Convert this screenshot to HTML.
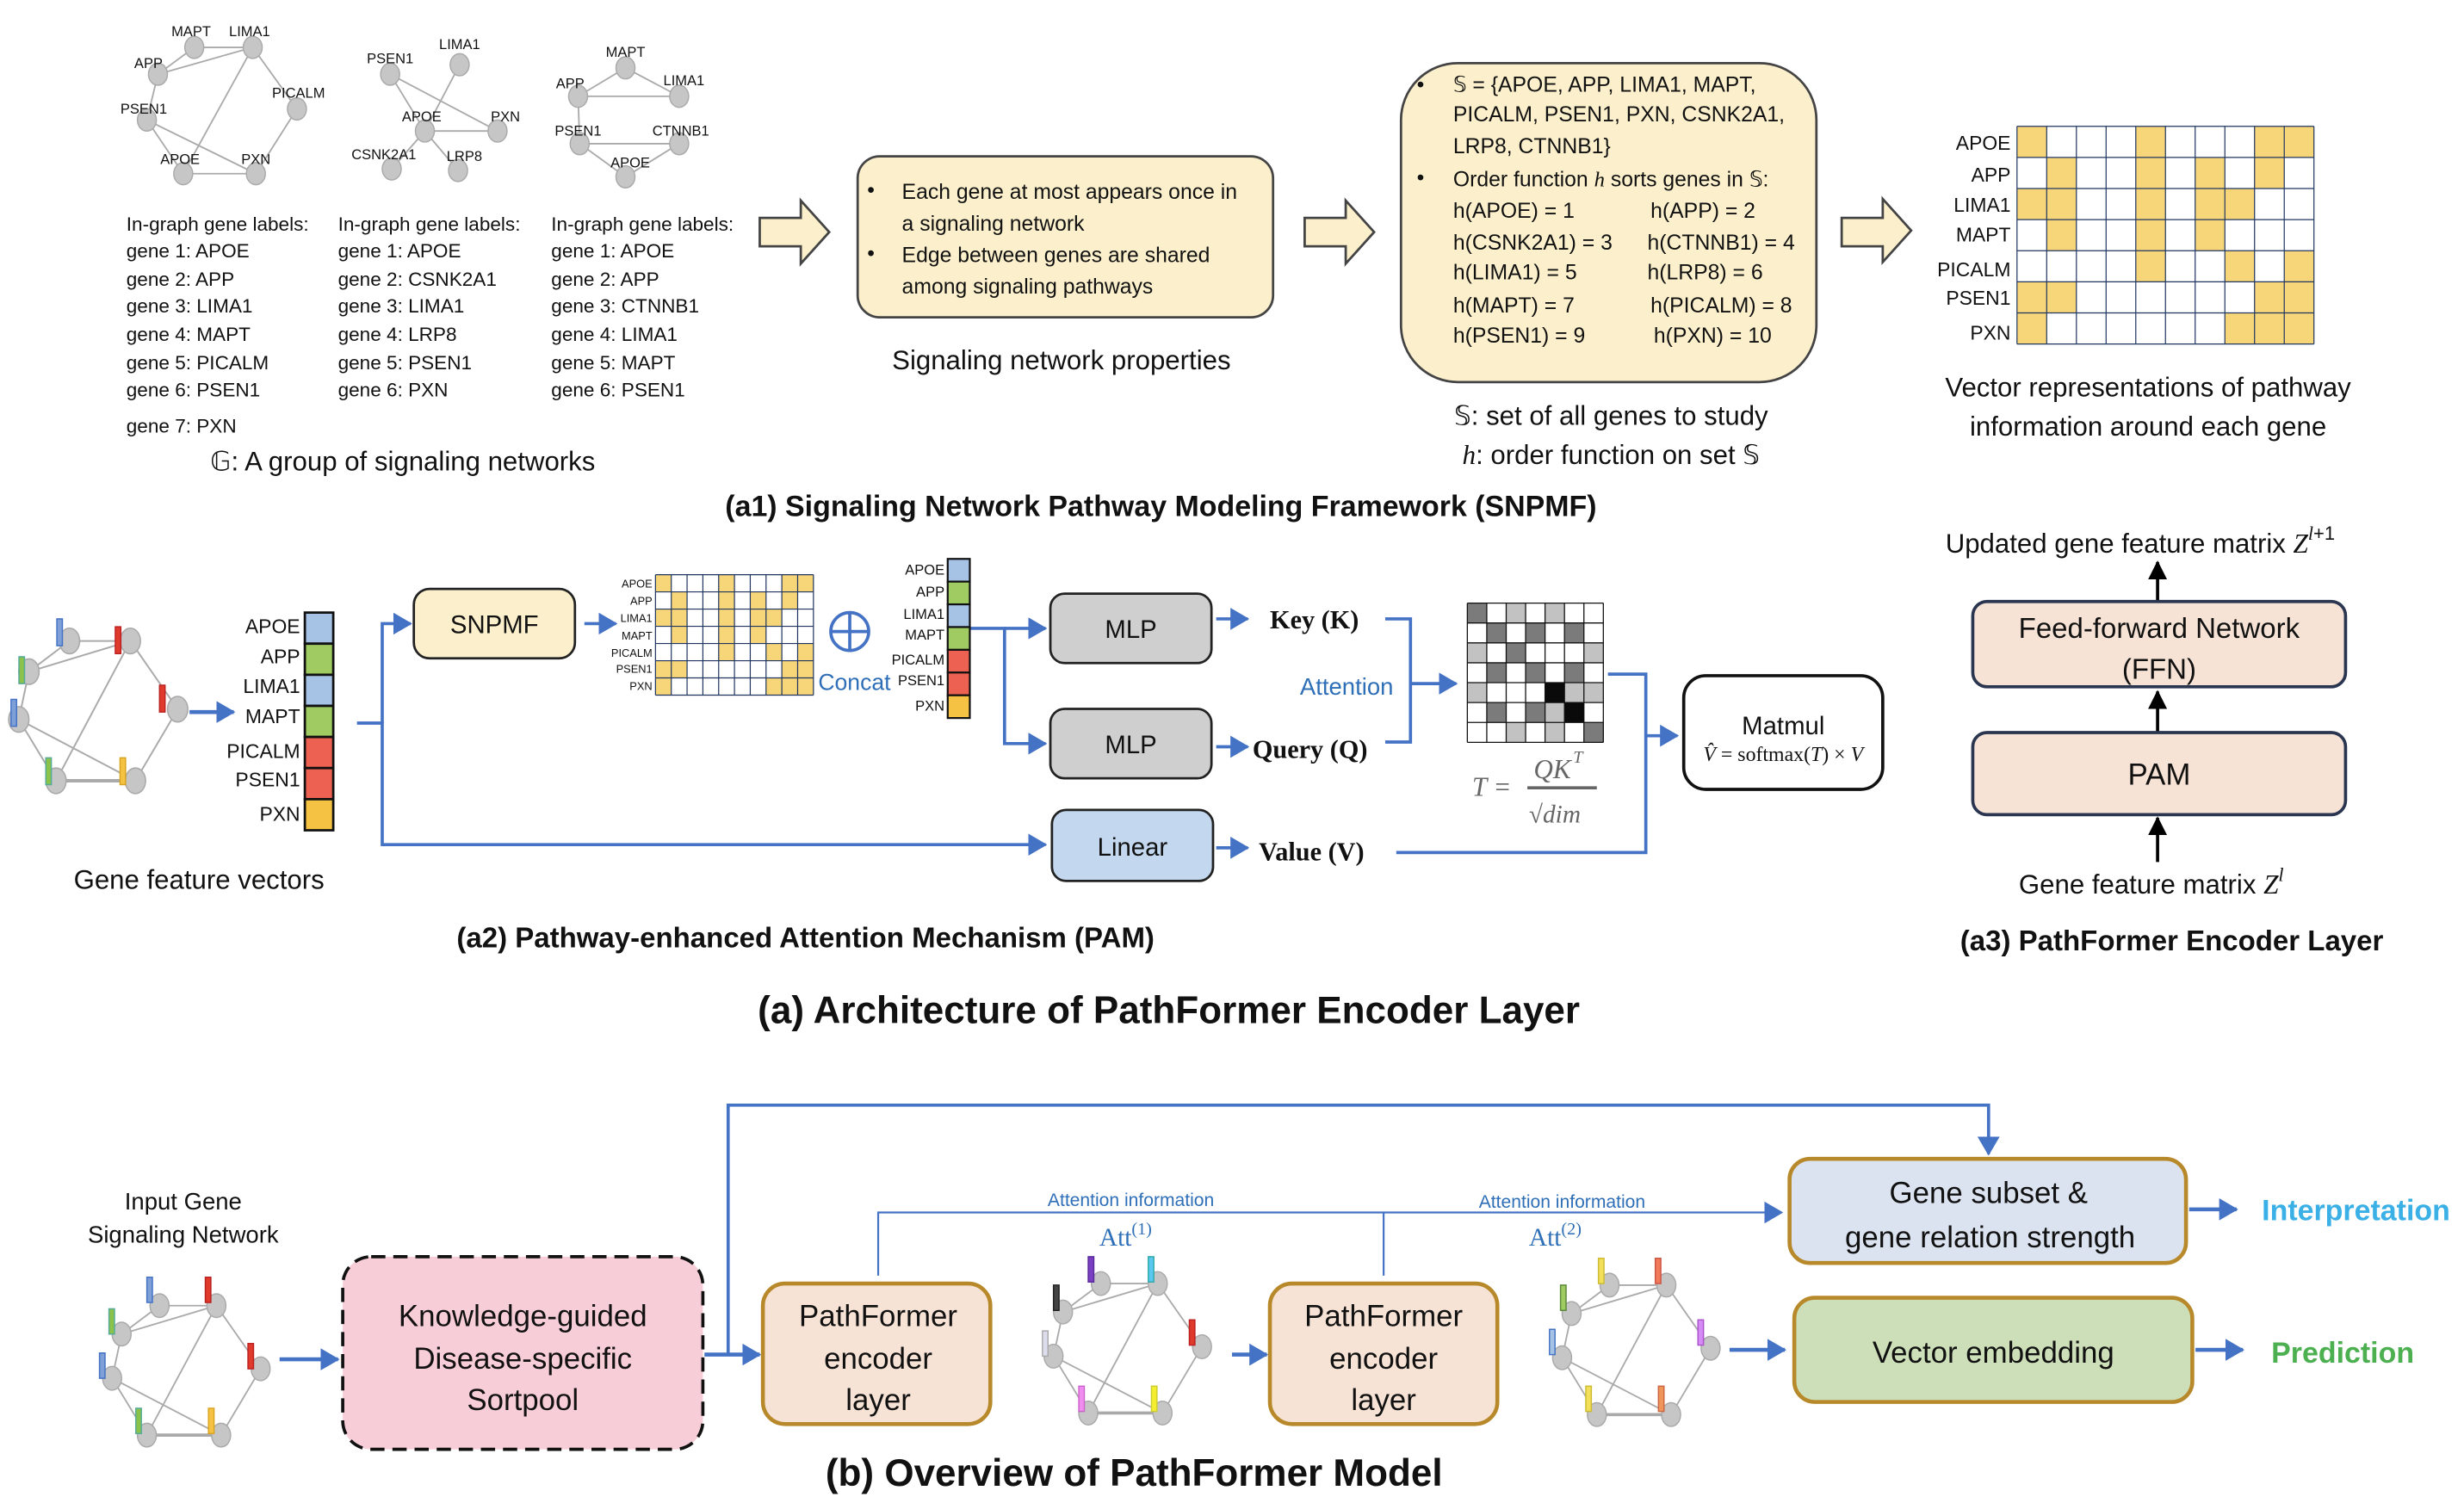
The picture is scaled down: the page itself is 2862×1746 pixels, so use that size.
<!DOCTYPE html>
<html><head><meta charset="utf-8"><style>
html,body{margin:0;padding:0;background:#fff}
svg{display:block}
text{font-family:"Liberation Sans",sans-serif;fill:#111}
.s{font-family:"Liberation Serif",serif}
.b{font-weight:bold}
.bl{fill:#2e6fb8}
</style></head><body>
<svg width="2862" height="1746" viewBox="0 0 1560 952" preserveAspectRatio="none" xmlns="http://www.w3.org/2000/svg">
<defs>
<marker id="ab" markerUnits="userSpaceOnUse" markerWidth="12" markerHeight="14" refX="11" refY="7" orient="auto"><path d="M0,0 L12,7 L0,14 z" fill="#4472c4"/></marker>
<marker id="ak" markerUnits="userSpaceOnUse" markerWidth="12" markerHeight="14" refX="11" refY="7" orient="auto"><path d="M0,1 L12,7 L0,13 z" fill="#000"/></marker>
<g id="grid">
<rect x="0" y="0" width="10" height="7" fill="#fff"/>
<g fill="#f7d67a">
<rect x="0" y="0" width="1" height="1"/><rect x="4" y="0" width="1" height="1"/><rect x="8" y="0" width="2" height="1"/>
<rect x="1" y="1" width="1" height="1"/><rect x="4" y="1" width="1" height="1"/><rect x="6" y="1" width="1" height="1"/><rect x="8" y="1" width="1" height="1"/>
<rect x="0" y="2" width="2" height="1"/><rect x="4" y="2" width="1" height="1"/><rect x="6" y="2" width="2" height="1"/>
<rect x="1" y="3" width="1" height="1"/><rect x="4" y="3" width="1" height="1"/><rect x="6" y="3" width="1" height="1"/>
<rect x="4" y="4" width="1" height="1"/><rect x="7" y="4" width="1" height="1"/><rect x="9" y="4" width="1" height="1"/>
<rect x="0" y="5" width="2" height="1"/><rect x="8" y="5" width="2" height="1"/>
<rect x="0" y="6" width="1" height="1"/><rect x="7" y="6" width="3" height="1"/>
</g>
<g stroke="#1f3560" stroke-width="1.2" vector-effect="non-scaling-stroke" fill="none">
<path vector-effect="non-scaling-stroke" d="M0,0H10M0,1H10M0,2H10M0,3H10M0,4H10M0,5H10M0,6H10M0,7H10M0,0V7M1,0V7M2,0V7M3,0V7M4,0V7M5,0V7M6,0V7M7,0V7M8,0V7M9,0V7M10,0V7"/>
</g>
</g>
<g id="net">
<g stroke="#aaa" stroke-width="1" fill="none">
<path d="M0,0L36,0M-24,18L0,0M-24,18L36,0M36,0L64,40M36,0L-8,82M-24,18L-30,46M-30,46L-8,82M-30,46L39,82M64,40L39,82"/>
<path d="M-8,82L39,82" stroke-width="2"/>
</g>
<g fill="#c6c6c6" stroke="#aaa" stroke-width="0.8">
<ellipse cx="0" cy="0" rx="6" ry="7.5"/><ellipse cx="36" cy="0" rx="6" ry="7.5"/><ellipse cx="-24" cy="18" rx="6" ry="7.5"/><ellipse cx="64" cy="40" rx="6" ry="7.5"/><ellipse cx="-30" cy="46" rx="6" ry="7.5"/><ellipse cx="-8" cy="82" rx="6" ry="7.5"/><ellipse cx="39" cy="82" rx="6" ry="7.5"/>
</g>
</g>
</defs>

<!-- ================= a1 ================= -->
<g stroke="#aaa" stroke-width="1" fill="none">
<path d="M123,30L160,30M100,47L123,30M100,47L160,30M160,30L188,69M160,30L116,110M100,47L93,76M93,76L116,110M93,76L162,110M188,69L162,110M116,110L162,110"/>
<path d="M247,47L269,83M247,47L315,83M291,41L269,83M269,83L315,83M269,83L248,107M269,83L290,108"/>
<path d="M366,61L396,43M396,43L430,61M366,61L430,61M366,61L367,91M367,91L430,91M367,91L396,112M396,112L430,91"/>
</g>
<g fill="#c6c6c6" stroke="#aaa" stroke-width="0.8">
<ellipse cx="123" cy="30" rx="6" ry="7"/><ellipse cx="160" cy="30" rx="6" ry="7"/><ellipse cx="100" cy="47" rx="6" ry="7"/><ellipse cx="188" cy="69" rx="6" ry="7"/><ellipse cx="93" cy="76" rx="6" ry="7"/><ellipse cx="116" cy="110" rx="6" ry="7"/><ellipse cx="162" cy="110" rx="6" ry="7"/>
<ellipse cx="247" cy="47" rx="6" ry="7"/><ellipse cx="291" cy="41" rx="6" ry="7"/><ellipse cx="269" cy="83" rx="6" ry="7"/><ellipse cx="315" cy="83" rx="6" ry="7"/><ellipse cx="248" cy="107" rx="6" ry="7"/><ellipse cx="290" cy="108" rx="6" ry="7"/>
<ellipse cx="396" cy="43" rx="6" ry="7"/><ellipse cx="366" cy="61" rx="6" ry="7"/><ellipse cx="430" cy="61" rx="6" ry="7"/><ellipse cx="367" cy="91" rx="6" ry="7"/><ellipse cx="430" cy="91" rx="6" ry="7"/><ellipse cx="396" cy="112" rx="6" ry="7"/>
</g>
<g font-size="9" text-anchor="middle">
<text x="121" y="23">MAPT</text><text x="158" y="23">LIMA1</text><text x="94" y="43">APP</text><text x="189" y="62">PICALM</text><text x="91" y="72">PSEN1</text><text x="114" y="104">APOE</text><text x="162" y="104">PXN</text>
<text x="291" y="31">LIMA1</text><text x="247" y="40">PSEN1</text><text x="267" y="77">APOE</text><text x="320" y="77">PXN</text><text x="243" y="101">CSNK2A1</text><text x="294" y="102">LRP8</text>
<text x="396" y="36">MAPT</text><text x="361" y="56">APP</text><text x="433" y="54">LIMA1</text><text x="366" y="86">PSEN1</text><text x="431" y="86">CTNNB1</text><text x="399" y="106">APOE</text>
</g>
<g font-size="12.3">
<text x="80" y="146">In-graph gene labels:</text><text x="80" y="163">gene 1: APOE</text><text x="80" y="181">gene 2: APP</text><text x="80" y="198">gene 3: LIMA1</text><text x="80" y="216">gene 4: MAPT</text><text x="80" y="234">gene 5: PICALM</text><text x="80" y="251">gene 6: PSEN1</text><text x="80" y="274">gene 7: PXN</text>
<text x="214" y="146">In-graph gene labels:</text><text x="214" y="163">gene 1: APOE</text><text x="214" y="181">gene 2: CSNK2A1</text><text x="214" y="198">gene 3: LIMA1</text><text x="214" y="216">gene 4: LRP8</text><text x="214" y="234">gene 5: PSEN1</text><text x="214" y="251">gene 6: PXN</text>
<text x="349" y="146">In-graph gene labels:</text><text x="349" y="163">gene 1: APOE</text><text x="349" y="181">gene 2: APP</text><text x="349" y="198">gene 3: CTNNB1</text><text x="349" y="216">gene 4: LIMA1</text><text x="349" y="234">gene 5: MAPT</text><text x="349" y="251">gene 6: PSEN1</text>
</g>
<text x="255" y="298" font-size="17" text-anchor="middle">𝔾: A group of signaling networks</text>

<g fill="#fcf0cc" stroke="#444" stroke-width="1.5">
<path d="M481,138H507V127L525,147L507,167V156H481Z"/>
<path d="M826,138H852V127L870,147L852,167V156H826Z"/>
<path d="M1166,138H1192V126L1210,146L1192,166V156H1166Z"/>
<rect x="543" y="99" width="263" height="102" rx="14"/>
<rect x="887" y="40" width="263" height="202" rx="36"/>
</g>
<g font-size="13.5">
<text x="549" y="125">•</text><text x="571" y="126">Each gene at most appears once in</text><text x="571" y="146">a signaling network</text>
<text x="549" y="165">•</text><text x="571" y="166">Edge between genes are shared</text><text x="571" y="186">among signaling pathways</text>
</g>
<text x="672" y="234" font-size="17" text-anchor="middle">Signaling network properties</text>
<g font-size="13.5">
<text x="897" y="58">•</text><text x="920" y="58">𝕊 = {APOE, APP, LIMA1, MAPT,</text>
<text x="920" y="77">PICALM, PSEN1, PXN, CSNK2A1,</text>
<text x="920" y="97">LRP8, CTNNB1}</text>
<text x="897" y="117">•</text><text x="920" y="118">Order function <tspan class="s" font-style="italic">h</tspan> sorts genes in 𝕊:</text>
<text x="920" y="138">h(APOE) = 1</text><text x="1045" y="138">h(APP) = 2</text>
<text x="920" y="158">h(CSNK2A1) = 3</text><text x="1043" y="158">h(CTNNB1) = 4</text>
<text x="920" y="177">h(LIMA1) = 5</text><text x="1043" y="177">h(LRP8) = 6</text>
<text x="920" y="198">h(MAPT) = 7</text><text x="1045" y="198">h(PICALM) = 8</text>
<text x="920" y="217">h(PSEN1) = 9</text><text x="1047" y="217">h(PXN) = 10</text>
</g>
<text x="1020" y="269" font-size="17" text-anchor="middle">𝕊: set of all genes to study</text>
<text x="1020" y="294" font-size="17" text-anchor="middle"><tspan class="s" font-style="italic">h</tspan>: order function on set 𝕊</text>

<use href="#grid" transform="translate(1277,80) scale(18.8,19.7)"/>
<g font-size="12.5" text-anchor="end">
<text x="1273" y="95">APOE</text><text x="1273" y="115">APP</text><text x="1273" y="134">LIMA1</text><text x="1273" y="153">MAPT</text><text x="1273" y="175">PICALM</text><text x="1273" y="193">PSEN1</text><text x="1273" y="215">PXN</text>
</g>
<text x="1360" y="251" font-size="17" text-anchor="middle">Vector representations of pathway</text>
<text x="1360" y="276" font-size="17" text-anchor="middle">information around each gene</text>
<text x="735" y="327" font-size="18.5" class="b" text-anchor="middle">(a1) Signaling Network Pathway Modeling Framework (SNPMF)</text>

<!-- ================= a2 ================= -->
<use href="#net" transform="translate(44,406) scale(1.07,1.08)"/>
<g stroke-width="0.8">
<rect x="36" y="392" width="3.5" height="17" fill="#7f9fd8" stroke="#4472c4"/>
<rect x="73" y="397" width="3.5" height="17" fill="#e03a2c" stroke="#b22"/>
<rect x="12" y="416" width="3.5" height="17" fill="#8bc34a" stroke="#5a9"/>
<rect x="101" y="434" width="3.5" height="17" fill="#e03a2c" stroke="#b22"/>
<rect x="7" y="443" width="3.5" height="17" fill="#7f9fd8" stroke="#4472c4"/>
<rect x="29" y="480" width="3.5" height="17" fill="#8bc34a" stroke="#5a9"/>
<rect x="76" y="480" width="3.5" height="17" fill="#f5c243" stroke="#d9a520"/>
</g>
<line x1="120" y1="451" x2="148" y2="451" stroke="#4472c4" stroke-width="2.5" marker-end="url(#ab)"/>
<g stroke="#111" stroke-width="1.5">
<rect x="193" y="388" width="18" height="19.7" fill="#a6c3e6"/>
<rect x="193" y="407.7" width="18" height="19.7" fill="#9fcb62"/>
<rect x="193" y="427.4" width="18" height="19.7" fill="#a6c3e6"/>
<rect x="193" y="447.1" width="18" height="19.7" fill="#9fcb62"/>
<rect x="193" y="466.8" width="18" height="19.7" fill="#ec6152"/>
<rect x="193" y="486.5" width="18" height="19.7" fill="#ec6152"/>
<rect x="193" y="506.2" width="18" height="19.7" fill="#f5c243"/>
</g>
<g font-size="12.5" text-anchor="end">
<text x="190" y="401">APOE</text><text x="190" y="420">APP</text><text x="190" y="439">LIMA1</text><text x="190" y="458">MAPT</text><text x="190" y="480">PICALM</text><text x="190" y="498">PSEN1</text><text x="190" y="520">PXN</text>
</g>
<text x="126" y="563" font-size="17" text-anchor="middle">Gene feature vectors</text>

<g stroke="#4472c4" stroke-width="2" fill="none">
<path d="M226,458H242V535H662" marker-end="url(#ab)"/>
<path d="M242,458V395H260" marker-end="url(#ab)"/>
<path d="M370,395H390" marker-end="url(#ab)"/>
<path d="M614,398H636V471H662" marker-end="url(#ab)"/>
<path d="M636,398H662" marker-end="url(#ab)"/>
<path d="M770,392H790" marker-end="url(#ab)"/>
<path d="M770,473H790" marker-end="url(#ab)"/>
<path d="M770,537H790" marker-end="url(#ab)"/>
<path d="M877,392H893V470H877"/>
<path d="M893,433H922" marker-end="url(#ab)"/>
<path d="M1018,427H1042V540H884"/>
<path d="M1042,466H1062" marker-end="url(#ab)"/>
</g>
<rect x="262" y="373" width="102" height="44" rx="10" fill="#fcf0cc" stroke="#222" stroke-width="1.5"/>
<text x="313" y="401" font-size="16" text-anchor="middle">SNPMF</text>
<use href="#grid" transform="translate(415,364) scale(10,10.9)"/>
<g font-size="7" text-anchor="end">
<text x="413" y="372">APOE</text><text x="413" y="383">APP</text><text x="413" y="394">LIMA1</text><text x="413" y="405">MAPT</text><text x="413" y="416">PICALM</text><text x="413" y="426">PSEN1</text><text x="413" y="437">PXN</text>
</g>
<circle cx="538" cy="400" r="12" fill="none" stroke="#4472c4" stroke-width="2"/>
<path d="M526,400H550M538,388V412" stroke="#4472c4" stroke-width="2"/>
<text x="518" y="437" font-size="14.5" class="bl">Concat</text>
<g stroke="#111" stroke-width="1.2">
<rect x="600" y="354" width="14" height="14.4" fill="#a6c3e6"/>
<rect x="600" y="368.4" width="14" height="14.4" fill="#9fcb62"/>
<rect x="600" y="382.8" width="14" height="14.4" fill="#a6c3e6"/>
<rect x="600" y="397.2" width="14" height="14.4" fill="#9fcb62"/>
<rect x="600" y="411.6" width="14" height="14.4" fill="#ec6152"/>
<rect x="600" y="426" width="14" height="14.4" fill="#ec6152"/>
<rect x="600" y="440.4" width="14" height="14.4" fill="#f5c243"/>
</g>
<g font-size="9" text-anchor="end">
<text x="598" y="364">APOE</text><text x="598" y="378">APP</text><text x="598" y="392">LIMA1</text><text x="598" y="405">MAPT</text><text x="598" y="421">PICALM</text><text x="598" y="434">PSEN1</text><text x="598" y="450">PXN</text>
</g>
<rect x="665" y="376" width="102" height="44" rx="9" fill="#cfcfcf" stroke="#222" stroke-width="1.5"/>
<rect x="665" y="449" width="102" height="44" rx="9" fill="#cfcfcf" stroke="#222" stroke-width="1.5"/>
<rect x="666" y="513" width="102" height="45" rx="9" fill="#c3d8ee" stroke="#222" stroke-width="1.5"/>
<text x="716" y="404" font-size="16" text-anchor="middle">MLP</text>
<text x="716" y="477" font-size="16" text-anchor="middle">MLP</text>
<text x="717" y="542" font-size="16" text-anchor="middle">Linear</text>
<text x="804" y="398" font-size="16.5" class="s b">Key (K)</text>
<text x="793" y="480" font-size="16.5" class="s b">Query (Q)</text>
<text x="797" y="545" font-size="16.5" class="s b">Value  (V)</text>
<text x="823" y="440" font-size="15" class="bl">Attention</text>
<g transform="translate(929,382) scale(12.3,12.6)">
<rect x="0" y="0" width="7" height="7" fill="#fff"/>
<g fill="#7b7b7b"><rect x="0" y="0" width="1" height="1"/><rect x="1" y="1" width="1" height="1"/><rect x="3" y="1" width="1" height="1"/><rect x="5" y="1" width="1" height="1"/><rect x="2" y="2" width="1" height="1"/><rect x="1" y="3" width="1" height="1"/><rect x="3" y="3" width="1" height="1"/><rect x="5" y="3" width="1" height="1"/><rect x="1" y="5" width="1" height="1"/><rect x="3" y="5" width="1" height="1"/><rect x="6" y="6" width="1" height="1"/></g>
<g fill="#c2c2c2"><rect x="2" y="0" width="1" height="1"/><rect x="4" y="0" width="1" height="1"/><rect x="0" y="2" width="1" height="1"/><rect x="6" y="2" width="1" height="1"/><rect x="0" y="4" width="1" height="1"/><rect x="5" y="4" width="2" height="1"/><rect x="4" y="5" width="1" height="1"/><rect x="2" y="6" width="1" height="1"/><rect x="4" y="6" width="1" height="1"/></g>
<g fill="#0a0a0a"><rect x="4" y="4" width="1" height="1"/><rect x="5" y="5" width="1" height="1"/></g>
<path vector-effect="non-scaling-stroke" d="M0,0H7M0,1H7M0,2H7M0,3H7M0,4H7M0,5H7M0,6H7M0,7H7M0,0V7M1,0V7M2,0V7M3,0V7M4,0V7M5,0V7M6,0V7M7,0V7" stroke="#111" stroke-width="1.3" fill="none"/>
</g>
<g font-style="italic">
<text x="932" y="504" font-size="17" style="fill:#666" class="s">T =</text>
<text x="971" y="493" font-size="17" style="fill:#666" class="s">QK</text><text x="996" y="483" font-size="11" style="fill:#666" class="s">T</text>
<line x1="967" y1="499" x2="1011" y2="499" stroke="#666" stroke-width="2"/>
<text x="968" y="521" font-size="16" style="fill:#666" class="s">√dim</text>
</g>
<rect x="1066" y="428" width="126" height="72" rx="14" fill="#fff" stroke="#111" stroke-width="2"/>
<text x="1129" y="465" font-size="16" text-anchor="middle">Matmul</text>
<text x="1129" y="482" font-size="13" text-anchor="middle" class="s"><tspan font-style="italic">V̂</tspan> = softmax(<tspan font-style="italic">T</tspan>) × <tspan font-style="italic">V</tspan></text>

<!-- ================= a3 ================= -->
<text x="1355" y="350" font-size="17" text-anchor="middle">Updated gene feature matrix <tspan class="s" font-style="italic">Z</tspan><tspan class="s" font-style="italic" font-size="12" dy="-8">l</tspan><tspan font-size="12">+1</tspan></text>
<g stroke="#000" stroke-width="2">
<line x1="1366" y1="381" x2="1366" y2="356" marker-end="url(#ak)"/>
<line x1="1366" y1="464" x2="1366" y2="438" marker-end="url(#ak)"/>
<line x1="1366" y1="546" x2="1366" y2="518" marker-end="url(#ak)"/>
</g>
<rect x="1249" y="381" width="236" height="54" rx="9" fill="#f7e3d5" stroke="#2a3550" stroke-width="2"/>
<rect x="1249" y="464" width="236" height="52" rx="9" fill="#f7e3d5" stroke="#2a3550" stroke-width="2"/>
<text x="1367" y="404" font-size="18" text-anchor="middle">Feed-forward Network</text>
<text x="1367" y="430" font-size="18" text-anchor="middle">(FFN)</text>
<text x="1367" y="497" font-size="19" text-anchor="middle">PAM</text>
<text x="1362" y="566" font-size="17" text-anchor="middle">Gene feature matrix <tspan class="s" font-style="italic">Z</tspan><tspan class="s" font-style="italic" font-size="12" dy="-8">l</tspan></text>
<text x="510" y="600" font-size="18" class="b" text-anchor="middle">(a2) Pathway-enhanced Attention Mechanism (PAM)</text>
<text x="1375" y="602" font-size="18" class="b" text-anchor="middle">(a3) PathFormer Encoder Layer</text>
<text x="740" y="648" font-size="24" class="b" text-anchor="middle">(a) Architecture of PathFormer Encoder Layer</text>

<!-- ================= b ================= -->
<text x="116" y="766" font-size="15" text-anchor="middle">Input Gene</text>
<text x="116" y="787" font-size="15" text-anchor="middle">Signaling Network</text>
<use href="#net" transform="translate(101,827)"/>
<use href="#net" transform="translate(697,813)"/>
<use href="#net" transform="translate(1019,814)"/>
<g stroke-width="0.8">
<rect x="93" y="809" width="3.5" height="16" fill="#7f9fd8" stroke="#4472c4"/>
<rect x="130" y="809" width="3.5" height="16" fill="#e03a2c" stroke="#b22"/>
<rect x="69" y="829" width="3.5" height="16" fill="#8bc34a" stroke="#5a9"/>
<rect x="157" y="851" width="3.5" height="16" fill="#e03a2c" stroke="#b22"/>
<rect x="63" y="857" width="3.5" height="16" fill="#7f9fd8" stroke="#4472c4"/>
<rect x="86" y="892" width="3.5" height="16" fill="#8bc34a" stroke="#5a9"/>
<rect x="132" y="892" width="3.5" height="16" fill="#f5c243" stroke="#d9a520"/>

<rect x="689" y="796" width="3.5" height="16" fill="#7b3fc4" stroke="#5a2a9a"/>
<rect x="727" y="796" width="3.5" height="16" fill="#5bc8f0" stroke="#3aa"/>
<rect x="667" y="814" width="3.5" height="16" fill="#444" stroke="#222"/>
<rect x="753" y="836" width="3.5" height="16" fill="#e03a2c" stroke="#b22"/>
<rect x="660" y="843" width="3.5" height="16" fill="#dde" stroke="#aaa"/>
<rect x="683" y="878" width="3.5" height="16" fill="#f08ef0" stroke="#c6c"/>
<rect x="729" y="878" width="3.5" height="16" fill="#f5ee30" stroke="#cc3"/>

<rect x="1012" y="797" width="3.5" height="16" fill="#f2df5a" stroke="#cb3"/>
<rect x="1048" y="797" width="3.5" height="16" fill="#f07a5a" stroke="#c54"/>
<rect x="988" y="814" width="3.5" height="16" fill="#9fcb62" stroke="#5a8a3a"/>
<rect x="1075" y="836" width="3.5" height="16" fill="#d58af5" stroke="#a5c"/>
<rect x="981" y="842" width="3.5" height="16" fill="#a6c3e6" stroke="#4472c4"/>
<rect x="1004" y="878" width="3.5" height="16" fill="#f2df5a" stroke="#cb3"/>
<rect x="1050" y="878" width="3.5" height="16" fill="#f0955a" stroke="#c64"/>
</g>
<g stroke="#4472c4" stroke-width="2.5" fill="none">
<path d="M177,861H214" marker-end="url(#ab)"/>
<path d="M446,858H481" marker-end="url(#ab)"/>
<path d="M461,858V700H1259V731" stroke-width="2" marker-end="url(#ab)"/>
<path d="M780,858H802" marker-end="url(#ab)"/>
<path d="M1095,855H1130" marker-end="url(#ab)"/>
<path d="M1386,766H1416" marker-end="url(#ab)"/>
<path d="M1390,855H1420" marker-end="url(#ab)"/>
</g>
<g stroke="#4472c4" stroke-width="1.2" fill="none">
<path d="M556,808V768H1128" marker-end="url(#ab)"/>
<path d="M876,808V768"/>
</g>
<rect x="217" y="796" width="228" height="122" rx="18" fill="#f7cdd7" stroke="#111" stroke-width="2" stroke-dasharray="9,5"/>
<g font-size="19" text-anchor="middle">
<text x="331" y="840">Knowledge-guided</text><text x="331" y="867">Disease-specific</text><text x="331" y="893">Sortpool</text>
</g>
<rect x="483" y="813" width="144" height="89" rx="14" fill="#f7e3d5" stroke="#b8892a" stroke-width="2.5"/>
<rect x="804" y="813" width="144" height="89" rx="14" fill="#f7e3d5" stroke="#b8892a" stroke-width="2.5"/>
<g font-size="19" text-anchor="middle">
<text x="556" y="840">PathFormer</text><text x="556" y="867">encoder</text><text x="556" y="893">layer</text>
<text x="876" y="840">PathFormer</text><text x="876" y="867">encoder</text><text x="876" y="893">layer</text>
</g>
<text x="716" y="764" font-size="11.5" class="bl" text-anchor="middle">Attention information</text>
<text x="989" y="765" font-size="11.5" class="bl" text-anchor="middle">Attention information</text>
<text x="696" y="789" font-size="16" class="s bl">Att<tspan font-size="11" dy="-7">(1)</tspan></text>
<text x="968" y="789" font-size="16" class="s bl">Att<tspan font-size="11" dy="-7">(2)</tspan></text>
<rect x="1133" y="734" width="251" height="66" rx="13" fill="#dce3f0" stroke="#b8892a" stroke-width="2.5"/>
<rect x="1136" y="822" width="252" height="66" rx="13" fill="#cddfb9" stroke="#b8892a" stroke-width="2.5"/>
<text x="1259" y="762" font-size="19" text-anchor="middle">Gene subset &amp;</text>
<text x="1260" y="790" font-size="19" text-anchor="middle">gene relation strength</text>
<text x="1262" y="863" font-size="19" text-anchor="middle">Vector embedding</text>
<text x="1432" y="773" font-size="18.5" class="b" style="fill:#3ab0e6">Interpretation</text>
<text x="1438" y="863" font-size="18.5" class="b" style="fill:#4caf50">Prediction</text>
<text x="718" y="941" font-size="24" class="b" text-anchor="middle">(b) Overview of PathFormer Model</text>
</svg>
</body></html>
